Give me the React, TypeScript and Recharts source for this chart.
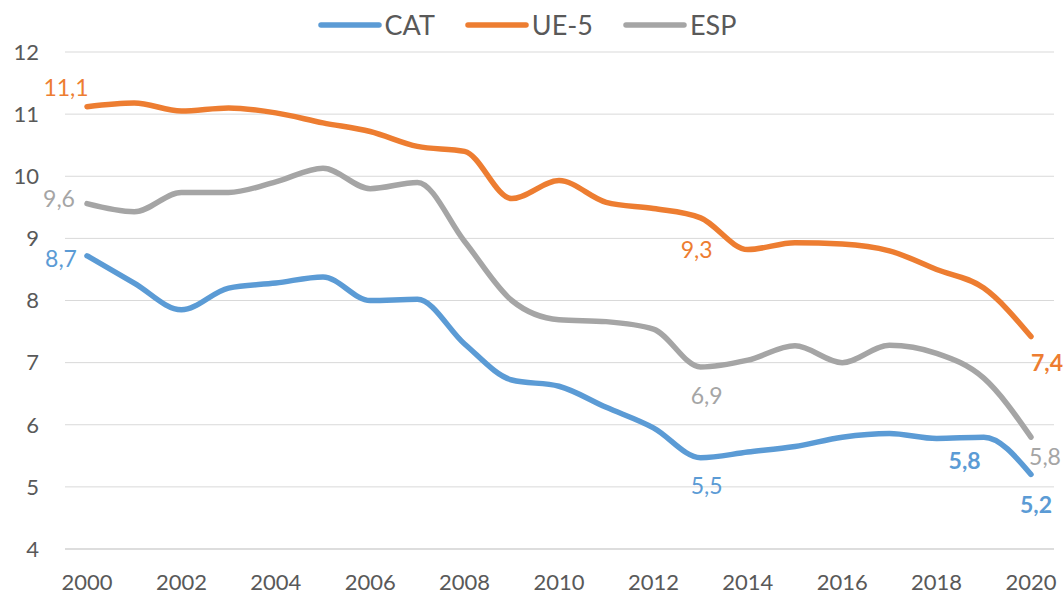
import React from 'react';
import { LineChart, Line, XAxis, YAxis, CartesianGrid, Legend, LabelList } from 'recharts';

const years = ['2000','2001','2002','2003','2004','2005','2006','2007','2008','2009','2010','2011','2012','2013','2014','2015','2016','2017','2018','2019','2020'];
const cat = [8.72, 8.28, 7.85, 8.2, 8.28, 8.38, 8.0, 8.02, 7.3, 6.72, 6.62, 6.28, 5.95, 5.47, 5.56, 5.65, 5.8, 5.86, 5.78, 5.8, 5.2];
const ue5 = [11.12, 11.18, 11.05, 11.1, 11.02, 10.86, 10.72, 10.48, 10.4, 9.64, 9.93, 9.58, 9.48, 9.33, 8.82, 8.93, 8.91, 8.8, 8.5, 8.2, 7.42];
const esp = [9.56, 9.43, 9.74, 9.74, 9.91, 10.13, 9.8, 9.9, 8.95, 8.0, 7.69, 7.66, 7.54, 6.93, 7.04, 7.27, 7.0, 7.28, 7.15, 6.75, 5.8];
const yTicks = [4, 5, 6, 7, 8, 9, 10, 11, 12];

const FONT = 'Lato, "Open Sans", sans-serif';
const TEXT = '#595959';
const BLUE = '#5B9BD5';
const ORANGE = '#ED7D31';
const GRAY = '#A5A5A5';

const data = years.map((y, i) => ({ year: y, CAT: cat[i], UE5: ue5[i], ESP: esp[i] }));

type Place = { dx: number; dy: number; bold?: boolean };
const catLabels: Record<number, Place> = {
  0: { dx: -26, dy: 2 },
  13: { dx: 6, dy: 27 },
  18: { dx: 28, dy: 22, bold: true },
  20: { dx: 5, dy: 30, bold: true },
};
const ueLabels: Record<number, Place> = {
  0: { dx: -21, dy: -20 },
  13: { dx: -4, dy: 31 },
  20: { dx: 16, dy: 25, bold: true },
};
const espLabels: Record<number, Place> = {
  0: { dx: -28, dy: -6 },
  13: { dx: 6, dy: 28 },
  20: { dx: 14, dy: 19 },
};

const fmt = (v: number) => v.toFixed(1).replace('.', ',');

function makeLabel(places: Record<number, Place>, color: string) {
  return (props: any) => {
    const { x, y, value, index } = props;
    const p = places[index];
    if (!p) return null;
    return (
      <text
        key={index}
        x={Number(x) + p.dx}
        y={Number(y) + p.dy}
        textAnchor="middle"
        dominantBaseline="central"
        fill={color}
        fontSize={23}
        fontWeight={p.bold ? 700 : 400}
        fontFamily={FONT}
      >
        {fmt(Number(value))}
      </text>
    );
  };
}

const legendItems = [
  { name: 'CAT', color: BLUE },
  { name: 'UE-5', color: ORANGE },
  { name: 'ESP', color: GRAY },
];

const renderLegend = () => (
  <div
    style={{
      display: 'flex',
      justifyContent: 'center',
      alignItems: 'center',
      height: 50,
      fontFamily: FONT,
      fontSize: 27,
      color: TEXT,
    }}
  >
    {legendItems.map((it, i) => (
      <div key={it.name} style={{ display: 'flex', alignItems: 'center', marginLeft: i === 0 ? 0 : 30 }}>
        <svg width={64} height={10} style={{ display: 'block' }}>
          <line x1={3} y1={5} x2={61} y2={5} stroke={it.color} strokeWidth={5.5} strokeLinecap="round" />
        </svg>
        <span style={{ marginLeft: 3, lineHeight: '32px' }}>{it.name}</span>
      </div>
    ))}
  </div>
);

export default function App() {
  return (
    <div style={{ position: 'absolute', left: 0, top: 0, background: '#fff' }}>
      <LineChart width={1064} height={596} data={data} margin={{ top: 0, right: 10, bottom: 0, left: 0 }}>
        <CartesianGrid horizontal vertical={false} stroke="#D9D9D9" strokeWidth={1} />
        <Legend verticalAlign="top" align="center" height={52} content={renderLegend} />
        <XAxis
          dataKey="year"
          interval={1}
          height={47}
          padding={{ left: 22, right: 23 }}
          tickLine={false}
          tickSize={0}
          tickMargin={25}
          axisLine={{ stroke: '#D9D9D9', strokeWidth: 1.5 }}
          tick={{ fill: TEXT, fontSize: 22, fontFamily: FONT }}
        />
        <YAxis
          domain={[4, 12]}
          ticks={yTicks}
          width={65}
          tickLine={false}
          axisLine={false}
          tickSize={0}
          tickMargin={26}
          tick={{ fill: TEXT, fontSize: 22, fontFamily: FONT }}
        />
        <Line type="monotone" dataKey="CAT" stroke={BLUE} strokeWidth={5.5} strokeLinecap="round" dot={false} activeDot={false} isAnimationActive={false}>
          <LabelList dataKey="CAT" content={makeLabel(catLabels, BLUE)} />
        </Line>
        <Line type="monotone" dataKey="UE5" stroke={ORANGE} strokeWidth={5.5} strokeLinecap="round" dot={false} activeDot={false} isAnimationActive={false}>
          <LabelList dataKey="UE5" content={makeLabel(ueLabels, ORANGE)} />
        </Line>
        <Line type="monotone" dataKey="ESP" stroke={GRAY} strokeWidth={5.5} strokeLinecap="round" dot={false} activeDot={false} isAnimationActive={false}>
          <LabelList dataKey="ESP" content={makeLabel(espLabels, GRAY)} />
        </Line>
      </LineChart>
    </div>
  );
}
